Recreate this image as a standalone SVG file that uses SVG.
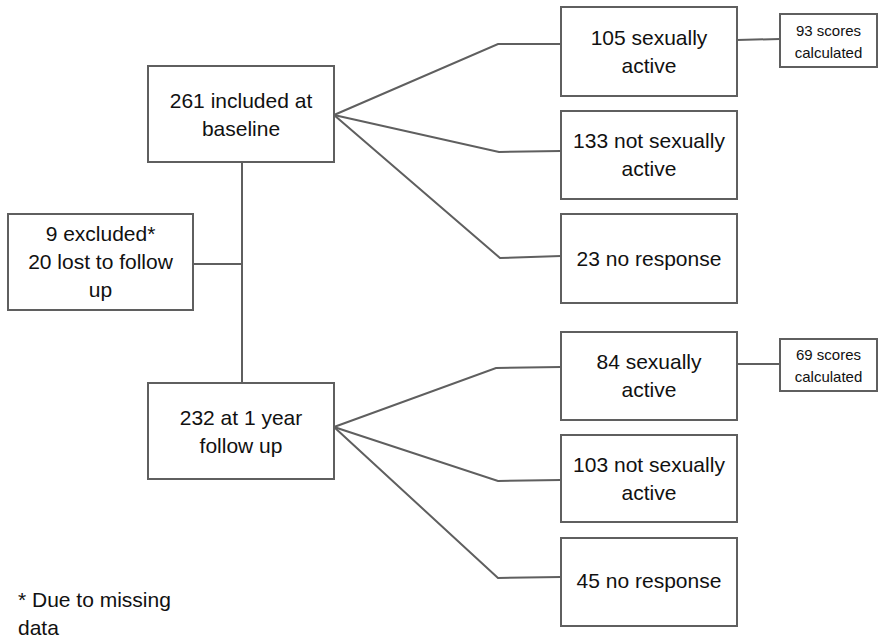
<svg xmlns="http://www.w3.org/2000/svg" width="879" height="638" viewBox="0 0 879 638">
<style>
.box{fill:#fff;stroke:#5f5f5f;stroke-width:2}
.ln{fill:none;stroke:#5f5f5f;stroke-width:2}
text{font-family:"Liberation Sans",Arial,sans-serif;font-size:21px;fill:#111;text-anchor:middle}
.sm{font-size:15px}
.fn{text-anchor:start}
</style>
<rect width="879" height="638" fill="#fff"/>
<g id="connectors">
<polyline class="ln" points="242,162 242,383"/>
<polyline class="ln" points="193,264 242,264"/>
<polyline class="ln" points="334,115 498,44 561,44"/>
<polyline class="ln" points="334,115 499,152 561,151"/>
<polyline class="ln" points="334,115 500,258 561,256"/>
<polyline class="ln" points="737,40 780,39"/>
<polyline class="ln" points="334,427 496,368 561,367"/>
<polyline class="ln" points="334,427 498,481 561,480"/>
<polyline class="ln" points="334,427 498,578 561,577"/>
<polyline class="ln" points="737,364 780,364"/>
</g>
<g id="baseline">
<rect class="box" x="148" y="66" width="186" height="96"/>
<text x="241" y="108">261 included at</text>
<text x="241" y="136">baseline</text>
</g>
<g id="excluded">
<rect class="box" x="8" y="214" width="185" height="96"/>
<text x="100.5" y="241">9 excluded*</text>
<text x="100.5" y="269">20 lost to follow</text>
<text x="100.5" y="297">up</text>
</g>
<g id="followup">
<rect class="box" x="148" y="383" width="186" height="96"/>
<text x="241" y="425">232 at 1 year</text>
<text x="241" y="453">follow up</text>
</g>
<g id="b_active">
<rect class="box" x="561" y="7" width="176" height="89"/>
<text x="649" y="45">105 sexually</text>
<text x="649" y="73">active</text>
</g>
<g id="b_scores">
<rect class="box" x="780" y="14" width="97" height="53"/>
<text class="sm" x="828.5" y="36">93 scores</text>
<text class="sm" x="828.5" y="58">calculated</text>
</g>
<g id="b_notactive">
<rect class="box" x="561" y="111" width="176" height="88"/>
<text x="649" y="148">133 not sexually</text>
<text x="649" y="176">active</text>
</g>
<g id="b_noresp">
<rect class="box" x="561" y="214" width="176" height="89"/>
<text x="649" y="266">23 no response</text>
</g>
<g id="f_active">
<rect class="box" x="561" y="332" width="176" height="88"/>
<text x="649" y="369">84 sexually</text>
<text x="649" y="397">active</text>
</g>
<g id="f_scores">
<rect class="box" x="780" y="339" width="97" height="52"/>
<text class="sm" x="828.5" y="360">69 scores</text>
<text class="sm" x="828.5" y="382">calculated</text>
</g>
<g id="f_notactive">
<rect class="box" x="561" y="435" width="176" height="87"/>
<text x="649" y="472">103 not sexually</text>
<text x="649" y="500">active</text>
</g>
<g id="f_noresp">
<rect class="box" x="561" y="538" width="176" height="88"/>
<text x="649" y="588">45 no response</text>
</g>
<g id="footnote">
<text class="fn" x="18" y="607">* Due to missing</text>
<text class="fn" x="18" y="635">data</text>
</g>
</svg>
